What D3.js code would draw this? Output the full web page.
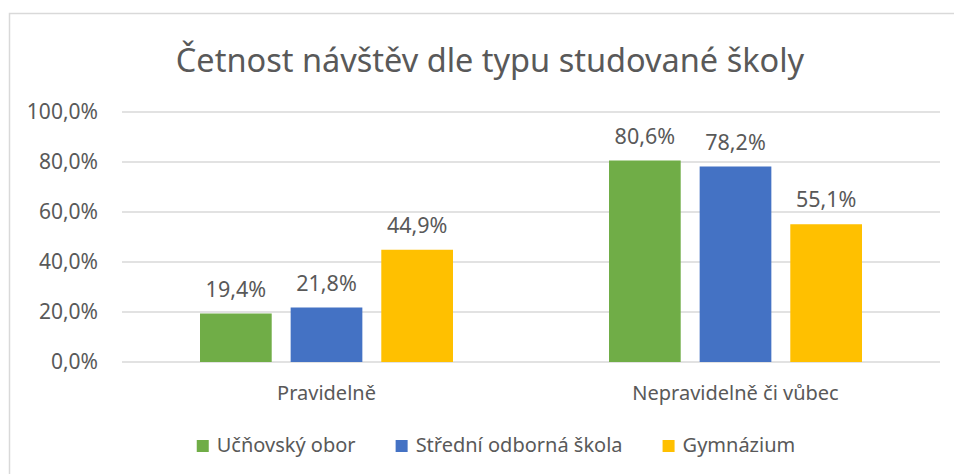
<!DOCTYPE html>
<html>
<head>
    <meta charset="utf-8">
    <title>Četnost návštěv</title>
    <script src="https://d3js.org/d3.v7.min.js"></script>
    <style>
        body { margin: 0; background: white; }
        text { font-family: "Noto Sans", sans-serif; fill: #595959; }
    </style>
</head>
<body>
<svg id="chart" width="954" height="474"></svg>
<script>
    // data
    const categories = ["Pravidelně", "Nepravidelně či vůbec"];
    const series = ["Učňovský obor", "Střední odborná škola", "Gymnázium"];
    const colors = ["#70AD47", "#4472C4", "#FFC000"];
    const values = [
        [19.4, 80.6],   // Učňovský obor
        [21.8, 78.2],   // Střední odborná škola
        [44.9, 55.1]    // Gymnázium
    ];
    const yTicks = [0, 20, 40, 60, 80, 100];
    const title = "Četnost návštěv dle typu studované školy";

    const svg = d3.select("#chart");
    const fmt = v => d3.format(".1f")(v).replace(".", ",") + "%";

    // chart frame (only top and left edges are visible)
    svg.append("rect")
        .attr("x", 9.5).attr("y", 13.5)
        .attr("width", 960).attr("height", 480)
        .attr("fill", "white")
        .attr("stroke", "#d9d9d9")
        .attr("stroke-width", 1.5);

    svg.append("text")
        .attr("x", 490).attr("y", 72)
        .attr("text-anchor", "middle")
        .style("font-size", "32.5px")
        .text(title);

    const x0 = d3.scaleBand().domain(categories).range([122, 940]);
    const x1 = d3.scaleBand().domain(series).range([0, 253]).paddingInner(0.209);
    const y = d3.scaleLinear().domain([0, 100]).range([362, 112]);

    // gridlines
    svg.append("g").selectAll("line")
        .data(yTicks)
        .join("line")
        .attr("x1", 122).attr("x2", 940)
        .attr("y1", d => y(d)).attr("y2", d => y(d))
        .attr("stroke", "#d9d9d9")
        .attr("stroke-width", 1.5);

    // y tick labels
    svg.append("g").selectAll("text")
        .data(yTicks)
        .join("text")
        .attr("x", 98)
        .attr("y", d => y(d))
        .attr("dy", "0.35em")
        .attr("text-anchor", "end")
        .style("font-size", "21px")
        .text(d => fmt(d));

    // bars
    const groups = svg.append("g").selectAll("g")
        .data(series)
        .join("g")
        .attr("fill", (d, i) => colors[i]);

    groups.each(function(s, si) {
        const g = d3.select(this);
        const data = categories.map((c, ci) => ({ c: c, v: values[si][ci] }));
        const off = d => x0(d.c) + (x0.bandwidth() - 253) / 2 + x1(s);
        g.selectAll("rect")
            .data(data)
            .join("rect")
            .attr("x", off)
            .attr("y", d => y(d.v))
            .attr("width", x1.bandwidth())
            .attr("height", d => y(0) - y(d.v));
        g.selectAll("text")
            .data(data)
            .join("text")
            .attr("x", d => off(d) + x1.bandwidth() / 2)
            .attr("y", d => y(d.v) - 17)
            .attr("text-anchor", "middle")
            .style("font-size", "21.5px")
            .text(d => fmt(d.v));
    });

    // category labels
    svg.append("g").selectAll("text")
        .data(categories)
        .join("text")
        .attr("x", d => x0(d) + x0.bandwidth() / 2)
        .attr("y", 400)
        .attr("text-anchor", "middle")
        .style("font-size", "20px")
        .text(d => d);

    // legend
    const legend = svg.append("g");
    let lx = 0;
    const items = legend.selectAll("g")
        .data(series)
        .join("g");
    items.append("rect")
        .attr("width", 12).attr("height", 12)
        .attr("y", 440)
        .attr("fill", (d, i) => colors[i]);
    items.append("text")
        .attr("x", 20)
        .attr("y", 452)
        .style("font-size", "20px")
        .text(d => d);
    items.each(function() {
        const w = this.querySelector("text").getComputedTextLength();
        d3.select(this).attr("transform", `translate(${lx},0)`);
        lx += 20 + w + 40;
    });
    const total = lx - 40;
    legend.attr("transform", `translate(${496 - total / 2},0)`);
</script>
</body>
</html>
